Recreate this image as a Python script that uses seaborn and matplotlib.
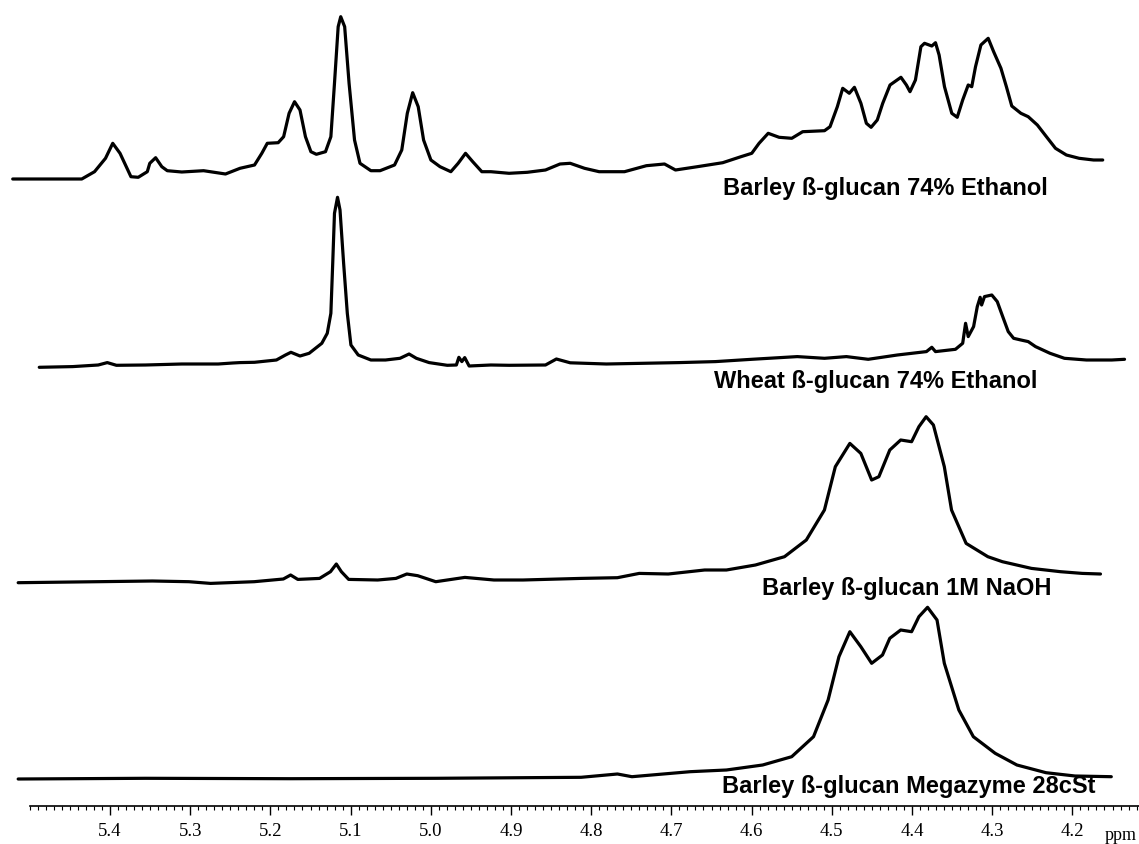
import numpy as np
import pandas as pd
import matplotlib
matplotlib.use("Agg")
import matplotlib.pyplot as plt
import seaborn as sns
from matplotlib.ticker import FixedLocator

# ---------------- data (ppm, relative signal) ----------------
ppm_barley_eth = [5.5213, 5.4352, 5.4193, 5.4056, 5.3966, 5.3875, 5.3807, 5.3739, 5.3648, 5.3535,
                  5.3504, 5.3431, 5.3354, 5.3286, 5.3105, 5.2833, 5.2560, 5.2379, 5.2198, 5.2107,
                  5.2039, 5.1903, 5.1835, 5.1767, 5.1699, 5.1631, 5.1563, 5.1495, 5.1427, 5.1313,
                  5.1246, 5.1201, 5.1155, 5.1123, 5.1074, 5.1019, 5.0951, 5.0883, 5.0747, 5.0633,
                  5.0452, 5.0362, 5.0293, 5.0226, 5.0157, 5.0090, 4.9999, 4.9885, 4.9750, 4.9659,
                  4.9567, 4.9477, 4.9364, 4.9251, 4.9024, 4.8797, 4.8570, 4.8389, 4.8262,
                  4.8083, 4.7901, 4.7585, 4.7312, 4.7086, 4.6949, 4.6677, 4.6360, 4.6133, 4.5998,
                  4.5907, 4.5793, 4.5657, 4.5499, 4.5363, 4.5091, 4.5022, 4.4931, 4.4864, 4.4782,
                  4.4718, 4.4637, 4.4569, 4.4510, 4.4433, 4.4365, 4.4274, 4.4138, 4.4070, 4.4025,
                  4.3957, 4.3889, 4.3844, 4.3753, 4.3707, 4.3662, 4.3595, 4.3504, 4.3436, 4.3368,
                  4.3299, 4.3255, 4.3208, 4.3141, 4.3050, 4.2982, 4.2891, 4.2823, 4.2756, 4.2642,
                  4.2551, 4.2437, 4.2324, 4.2211, 4.2075, 4.1916, 4.1736, 4.1622]
sig_barley_eth = [0.0, 0.0, 7.3, 20.7, 35.7, 25.7, 14.0, 2.3, 1.7, 7.3,
                  15.7, 21.3, 12.3, 8.3, 7.0, 8.3, 5.0, 10.7, 14.0, 25.7,
                  35.7, 36.3, 42.3, 65.7, 77.3, 69.0, 42.3, 27.3, 24.7, 27.3,
                  42.3, 95.7, 152.3, 162.3, 152.3, 95.7, 39.0, 15.7, 8.3, 8.3,
                  14.0, 29.0, 65.7, 86.3, 72.3, 39.0, 19.0, 12.3, 7.3, 15.7,
                  25.7, 17.3, 7.3, 7.3, 5.7, 6.7, 9.0, 15.0, 15.7,
                  10.7, 7.3, 7.3, 13.3, 15.0, 9.0, 12.3, 16.3, 22.3, 25.7,
                  35.7, 45.7, 41.7, 40.7, 47.3, 48.3, 52.3, 72.3, 90.7, 85.7,
                  91.7, 75.7, 55.7, 51.7, 59.0, 75.7, 94.0, 101.7, 94.0, 87.3,
                  99.0, 132.3, 135.7, 133.0, 136.3, 124.0, 92.3, 65.7, 61.7, 79.0,
                  94.0, 92.3, 112.3, 134.0, 140.7, 127.3, 110.7, 92.3, 73.0, 65.7,
                  62.3, 54.0, 42.3, 30.7, 24.0, 20.7, 19.0, 19.0]

ppm_wheat_eth = [5.4882, 5.4465, 5.4147, 5.4034, 5.3920, 5.3557, 5.3105, 5.2651, 5.2470, 5.2379,
                 5.2198, 5.1925, 5.1812, 5.1744, 5.1631, 5.1517, 5.1359, 5.1291, 5.1246, 5.1223,
                 5.1201, 5.1163, 5.1132, 5.1087, 5.1041, 5.0996, 5.0905, 5.0747, 5.0565, 5.0384,
                 5.0271, 5.0180, 5.0021, 4.9795, 4.9681, 4.9650, 4.9613, 4.9577, 4.9522, 4.9251,
                 4.9024, 4.8570, 4.8434, 4.8262,
                 4.7811, 4.7358, 4.6904, 4.6450, 4.5998, 4.5430, 4.5091, 4.4818, 4.4546, 4.4183,
                 4.3820, 4.3753, 4.3707, 4.3458, 4.3368, 4.3332, 4.3299, 4.3232, 4.3186, 4.3150,
                 4.3132, 4.3096, 4.3005, 4.2937, 4.2869, 4.2800, 4.2733, 4.2642, 4.2551, 4.2460,
                 4.2279, 4.2099, 4.1825, 4.1509, 4.1350]
sig_wheat_eth = [0.0, 0.7, 2.3, 4.7, 2.0, 2.3, 3.3, 3.3, 4.3, 4.7,
                 5.0, 7.3, 12.3, 15.0, 11.3, 14.0, 24.0, 34.0, 54.0, 104.0,
                 154.0, 170.0, 157.3, 104.0, 54.0, 22.3, 12.3, 7.3, 7.3, 9.0,
                 13.3, 9.0, 4.7, 2.0, 2.3, 10.0, 5.7, 9.7, 1.3, 2.3,
                 2.0, 2.3, 8.3, 4.5,
                 3.3, 4.0, 4.7, 5.7, 8.0, 10.7, 9.0, 10.7, 8.0, 12.3,
                 15.7, 20.0, 15.7, 18.0, 24.0, 44.0, 30.7, 40.7, 60.7, 70.0,
                 62.3, 70.7, 72.3, 65.7, 50.7, 35.7, 29.0, 27.3, 25.7, 20.7,
                 14.0, 9.0, 7.3, 7.3, 8.0]

ppm_barley_naoh = [5.5145, 5.3470, 5.3016, 5.2746, 5.2202, 5.1839, 5.1748, 5.1658, 5.1387, 5.1251,
                   5.1178, 5.1115, 5.1024, 5.0662, 5.0435, 5.0299, 5.0163, 4.9938, 4.9575, 4.9213,
                   4.8850, 4.8126, 4.7673, 4.7401, 4.7039, 4.6586, 4.6314, 4.5952, 4.5590, 4.5318,
                   4.5092, 4.4956, 4.4775, 4.4638, 4.4503, 4.4413, 4.4277, 4.4141, 4.4005, 4.3914,
                   4.3824, 4.3733, 4.3597, 4.3507, 4.3325, 4.3054, 4.2873, 4.2510, 4.2148, 4.1877,
                   4.1650]
sig_barley_naoh = [-1.0, 0.7, 0.0, -1.7, 0.0, 2.7, 6.7, 2.3, 3.3, 10.0,
                   17.7, 10.0, 2.3, 1.7, 3.3, 7.7, 6.0, 0.0, 4.3, 1.7,
                   1.7, 3.3, 4.0, 8.3, 7.7, 11.7, 11.7, 16.7, 25.0, 41.7,
                   71.7, 115.0, 138.3, 128.3, 101.7, 105.0, 131.7, 141.7, 140.0, 155.0,
                   165.0, 156.7, 115.0, 71.7, 38.3, 25.0, 20.0, 13.3, 10.0, 8.3,
                   7.7]

ppm_barley_mega = [5.5145, 5.3560, 5.1748, 4.9938, 4.8126, 4.7673, 4.7492, 4.6767, 4.6314, 4.5862,
                   4.5500, 4.5228, 4.5046, 4.4911, 4.4775, 4.4638, 4.4503, 4.4368, 4.4277, 4.4141,
                   4.4005, 4.3914, 4.3806, 4.3688, 4.3597, 4.3416, 4.3235, 4.2963, 4.2692, 4.2329,
                   4.1968, 4.1515]
sig_barley_mega = [0.0, 0.7, 0.3, 0.7, 1.7, 5.0, 2.3, 7.3, 9.0, 14.0,
                   22.3, 42.3, 79.0, 122.3, 147.3, 132.3, 115.7, 124.0, 140.7, 149.0,
                   147.3, 162.3, 171.7, 159.0, 115.7, 69.0, 42.3, 25.7, 14.0, 6.3,
                   3.0, 2.3]

sample_names = ["Barley ß-glucan 74% Ethanol", "Wheat ß-glucan 74% Ethanol",
                "Barley ß-glucan 1M NaOH", "Barley ß-glucan Megazyme 28cSt"]
tick_values = [5.4, 5.3, 5.2, 5.1, 5.0, 4.9, 4.8, 4.7, 4.6, 4.5, 4.4, 4.3, 4.2]
tick_labels = ["5.4", "5.3", "5.2", "5.1", "5.0", "4.9", "4.8", "4.7", "4.6", "4.5", "4.4", "4.3", "4.2"]

# ---------------- layout ----------------
W, H = 1139, 844
sns.set_style("white")
fig = plt.figure(figsize=(W / 100, H / 100), dpi=100)
ax = fig.add_axes([0, 0, 1, 1])

ppm_sets = [ppm_barley_eth, ppm_wheat_eth, ppm_barley_naoh, ppm_barley_mega]
sig_sets = [sig_barley_eth, sig_wheat_eth, sig_barley_naoh, sig_barley_mega]
baseline_rows = [179.0, 367.3, 581.7, 779.0]      # pixel rows of each trace baseline
label_pos = [(723, 189), (714, 382), (762, 589), (722, 787)]

for name, pp, ss, row in zip(sample_names, ppm_sets, sig_sets, baseline_rows):
    df = pd.DataFrame({"ppm": pp, "signal": ss})
    df["y"] = df["signal"] + (H - row)
    sns.lineplot(data=df, x="ppm", y="y", ax=ax, color="black", linewidth=2.3,
                 estimator=None, sort=False, legend=False,
                 solid_joinstyle="round", solid_capstyle="round")

ax.set_xlim(5.4 + 110 / 802, 5.4 - 1029 / 802)
ax.set_ylim(0, H)
ax.set_xlabel("")
ax.set_ylabel("")
ax.set_yticks([])
for s in ["left", "right", "top"]:
    ax.spines[s].set_visible(False)
ax.spines["bottom"].set_position(("data", H - 806))
ax.spines["bottom"].set_bounds(4.115, 5.5)
ax.spines["bottom"].set_linewidth(1.2)
ax.spines["bottom"].set_color("black")

ax.xaxis.set_major_locator(FixedLocator(tick_values))
ax.set_xticklabels(tick_labels, fontfamily="Liberation Serif", fontsize=13.5, color="black")
ax.xaxis.set_minor_locator(FixedLocator([v / 100 for v in range(412, 551)]))
ax.tick_params(axis="x", which="major", direction="out", length=6.5, width=1.0,
               pad=6, color="black", labelcolor="black", bottom=True)
ax.tick_params(axis="x", which="minor", direction="out", length=3.0, width=0.8,
               color="black", bottom=True)
ax.grid(False)

for name, (lx, ly) in zip(sample_names, label_pos):
    fig.text(lx / W, 1 - ly / H, name, ha="left", va="center", color="black",
             fontfamily="Liberation Sans", fontweight="bold", fontsize=17)

fig.text(1121 / W, 1 - 836 / H, "ppm", ha="center", va="center", color="black",
         fontfamily="Liberation Serif", fontsize=13)

fig.savefig("out.png", dpi=100, facecolor="white")
